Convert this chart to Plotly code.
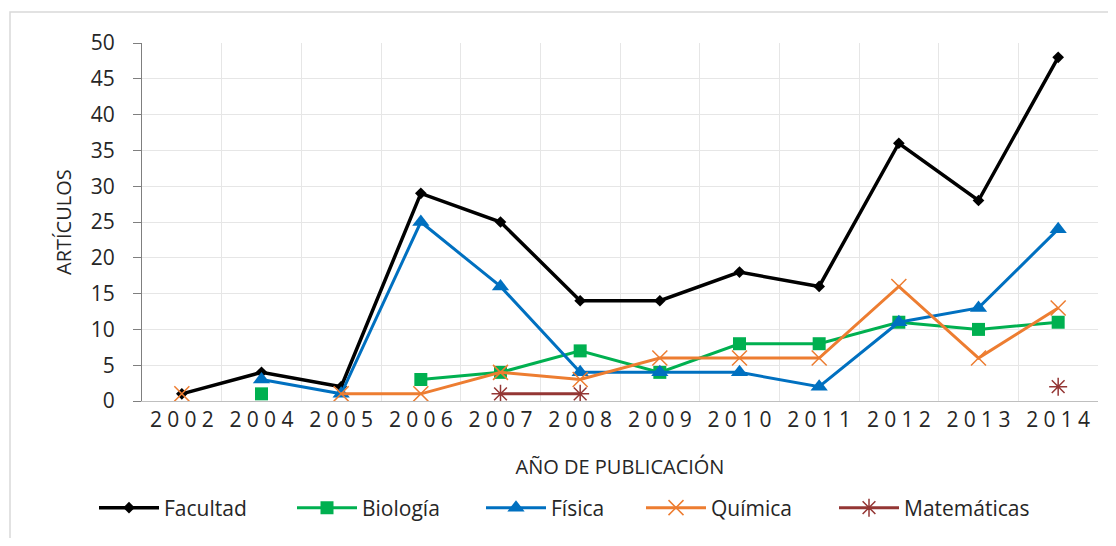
import plotly.graph_objects as go

years = ["2002", "2004", "2005", "2006", "2007", "2008", "2009", "2010", "2011", "2012", "2013", "2014"]
facultad = [1, 4, 2, 29, 25, 14, 14, 18, 16, 36, 28, 48]
biologia = [None, 1, None, 3, 4, 7, 4, 8, 8, 11, 10, 11]
fisica = [None, 3, 1, 25, 16, 4, 4, 4, 2, 11, 13, 24]
quimica = [1, None, 1, 1, 4, 3, 6, 6, 6, 16, 6, 13]
matematicas = [None, None, None, None, 1, 1, None, None, None, None, None, 2]
y_ticks = [0, 5, 10, 15, 20, 25, 30, 35, 40, 45, 50]
year_labels = ["\u2005".join(y) for y in years]

FONT = "Open Sans"
TXT = "#262626"

# page has an 8px body margin; figure sized to fit the window
OFF = 8
FW, FH = 1100, 530

series = [
    ("Facultad", facultad, "#000000", "diamond", 9, 3.5),
    ("Biología", biologia, "#00B050", "square", 13, 3),
    ("Física", fisica, "#0070C0", "triangle-up", 15, 3),
    ("Química", quimica, "#ED7D31", "x-thin-open", 15, 3),
    ("Matemáticas", matematicas, "#943634", "asterisk-open", 15, 3),
]
legend_x = [100, 298, 487, 647, 840]  # window px of each legend entry start

fig = go.Figure()
legends = {}
for i, (name, vals, color, sym, size, lw) in enumerate(series):
    lname = "legend" if i == 0 else f"legend{i + 1}"
    fig.add_trace(go.Scatter(
        x=years, y=vals, name=name, mode="lines+markers",
        line=dict(color=color, width=lw),
        marker=dict(symbol=sym, size=size, color=color,
                    line=dict(color=color, width=1.5 if "open" in sym else 0)),
        connectgaps=False, legend=lname,
    ))
    legends[lname] = dict(
        x=(legend_x[i] - OFF - 6) / FW, xanchor="left", xref="container",
        y=(FH - (508 - OFF)) / FH, yanchor="middle", yref="container",
        font=dict(size=21, color=TXT), itemwidth=60, bgcolor="rgba(0,0,0,0)",
    )

L = 142 - OFF
T = 43 - OFF
R = FW - (1098 - OFF)
B = FH - (401 - OFF)
PW, PH = FW - L - R, FH - T - B

fig.update_layout(
    width=FW, height=FH,
    margin=dict(l=L, r=R, t=T, b=B, autoexpand=False),
    paper_bgcolor="white", plot_bgcolor="white",
    font=dict(family=FONT, size=19, color=TXT),
    showlegend=True,
    xaxis=dict(
        type="category", categoryorder="array", categoryarray=years,
        tickmode="array", tickvals=years, ticktext=year_labels,
        tickson="boundaries", showgrid=True, gridcolor="#E6E6E6", gridwidth=1,
        showline=True, linecolor="#BFBFBF", linewidth=1,
        ticks="outside", ticklen=25, tickcolor="rgba(0,0,0,0)",
        tickfont=dict(size=21, color=TXT), automargin=False,
        title=dict(text="AÑO DE PUBLICACIÓN", font=dict(size=20, color=TXT), standoff=27),
        range=[-0.5, 11.5],
    ),
    yaxis=dict(
        range=[0, 50], tickvals=y_ticks, showgrid=True, gridcolor="#E6E6E6", gridwidth=1,
        showline=True, linecolor="#7F7F7F", linewidth=1,
        ticks="outside", ticklen=8, tickcolor="#7F7F7F", ticklabelstandoff=14,
        tickfont=dict(size=21, color=TXT), zeroline=False, automargin=False,
    ),
    annotations=[dict(text="ARTÍCULOS", xref="paper", yref="paper",
                      x=(63 - OFF - L) / PW, y=0.5, xanchor="center", yanchor="middle",
                      textangle=-90, showarrow=False, font=dict(size=20, color=TXT))],
    shapes=[dict(type="rect", xref="paper", yref="paper",
                 x0=(10 - OFF - L) / PW, x1=(FW + 10 - L) / PW,
                 y0=(T + PH - (FH + 10)) / PH, y1=(T + PH - (12 - OFF)) / PH,
                 line=dict(color="#D9D9D9", width=1.5), fillcolor="rgba(0,0,0,0)", layer="below")],
    **legends,
)

fig.write_html("out.html")
